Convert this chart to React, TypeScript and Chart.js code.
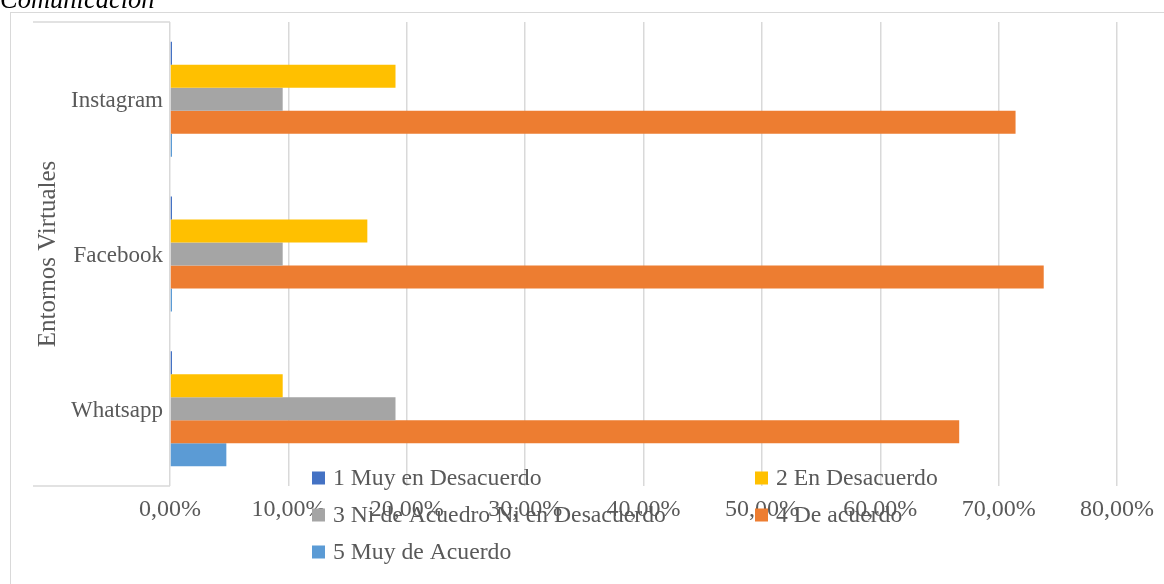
import React, { useEffect, useRef } from "react";
import { Chart, registerables } from "chart.js";

Chart.register(...registerables);

const categories = ["Instagram", "Facebook", "Whatsapp"];
const seriesLabels = [
  "1 Muy en Desacuerdo",
  "2 En Desacuerdo",
  "3 Ni de Acuedro Ni en Desacuerdo",
  "4 De acuerdo",
  "5 Muy de Acuerdo",
];
const muyEnDesacuerdo = [0, 0, 0];
const enDesacuerdo = [19.05, 16.67, 9.52];
const niNi = [9.52, 9.52, 19.05];
const deAcuerdo = [71.43, 73.81, 66.67];
const muyDeAcuerdo = [0, 0, 4.76];
const seriesColors = ["#4472C4", "#FFC000", "#A5A5A5", "#ED7D31", "#5B9BD5"];
const xMin = 0;
const xMax = 80;
const xStep = 10;
const axisTitle = "Entornos Virtuales";
const pageTitle = "Comunicación";

const FONT = "'Liberation Serif', 'Times New Roman', serif";
const TEXT = "#595959";
const GRID = "#d9d9d9";

const decorPlugin = {
  id: "decor",
  beforeDraw(chart: any) {
    const { ctx, chartArea } = chart;
    ctx.save();
    ctx.strokeStyle = GRID;
    ctx.lineWidth = 1;
    ctx.strokeRect(10.5, 12.5, 1200, 600);
    ctx.lineWidth = 1.5;
    ctx.beginPath();
    ctx.moveTo(33, chartArea.top);
    ctx.lineTo(chartArea.left, chartArea.top);
    ctx.moveTo(33, chartArea.bottom);
    ctx.lineTo(chartArea.left, chartArea.bottom);
    ctx.stroke();
    ctx.fillStyle = "#000";
    ctx.font = `italic 26.5px ${FONT}`;
    ctx.textBaseline = "alphabetic";
    ctx.textAlign = "left";
    ctx.fillText(pageTitle, 0, 8);
    ctx.restore();
  },
  afterDraw(chart: any) {
    const { ctx } = chart;
    const cols = [312, 755];
    const rows = [478, 515, 552];
    ctx.save();
    ctx.font = `23.7px ${FONT}`;
    ctx.textBaseline = "middle";
    ctx.textAlign = "left";
    chart.data.datasets.forEach((ds: any, i: number) => {
      const x = cols[i % 2];
      const y = rows[Math.floor(i / 2)];
      ctx.fillStyle = ds.backgroundColor;
      ctx.fillRect(x, y - 6.5, 13, 13);
      ctx.fillStyle = TEXT;
      ctx.fillText(ds.label, x + 21, y + 1);
    });
    ctx.restore();
  },
};

export default function App() {
  const ref = useRef<HTMLCanvasElement>(null);
  useEffect(() => {
    const values = [muyEnDesacuerdo, enDesacuerdo, niNi, deAcuerdo, muyDeAcuerdo];
    const chart = new Chart(ref.current!, {
      type: "bar",
      data: {
        labels: categories,
        datasets: values.map((v, i) => ({
          label: seriesLabels[i],
          data: v,
          backgroundColor: seriesColors[i],
          barPercentage: 1,
          categoryPercentage: 0.744,
          minBarLength: 2,
        })),
      },
      options: {
        indexAxis: "y",
        responsive: false,
        animation: false,
        layout: { padding: { top: 22, right: 47, bottom: 0, left: 0 } },
        plugins: { legend: { display: false }, tooltip: { enabled: false } },
        scales: {
          x: {
            min: xMin,
            max: xMax,
            afterFit: (s: any) => {
              s.height = 98;
            },
            ticks: {
              stepSize: xStep,
              padding: 9,
              color: TEXT,
              font: { family: FONT, size: 24 },
              callback: (v: any) => Number(v).toFixed(2).replace(".", ",") + "%",
            },
            grid: { color: GRID, lineWidth: 1.5, drawTicks: false },
            border: { display: false },
          },
          y: {
            afterFit: (s: any) => {
              s.width = 170;
            },
            ticks: {
              padding: 7,
              labelOffset: 2,
              color: TEXT,
              font: { family: FONT, size: 23 },
            },
            grid: { display: false, drawTicks: false },
            border: { display: false },
            title: {
              display: true,
              text: axisTitle,
              color: TEXT,
              font: { family: FONT, size: 25 },
              padding: { top: 33, bottom: 0 },
            },
          },
        },
      },
      plugins: [decorPlugin],
    } as any);
    return () => chart.destroy();
  }, []);
  return (
    <div style={{ position: "fixed", left: 0, top: 0, width: 1164, height: 584, background: "#fff" }}>
      <canvas ref={ref} width={1164} height={584} style={{ display: "block" }} />
    </div>
  );
}
